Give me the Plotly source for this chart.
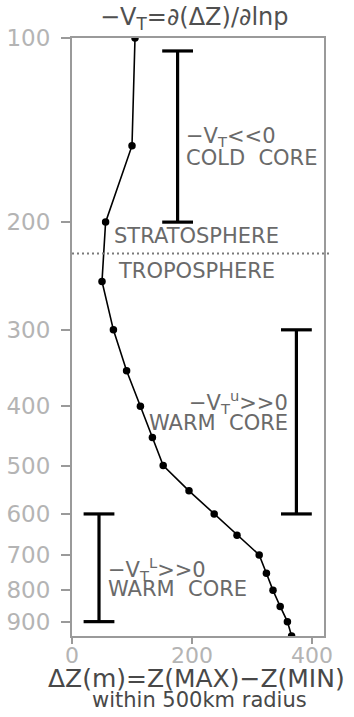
import numpy as np
import plotly.graph_objects as go

# Data
pressure = [100, 150, 200, 250, 300, 350, 400, 450, 500, 550, 600, 650, 700, 750, 800, 850, 900, 950]
delta_z = [105, 100, 56, 50, 69, 91, 114, 134, 152, 195, 237, 275, 312, 324, 335, 347, 359, 366]

# Thermal wind regime bars: (x value, p top, p bottom)
bar_x = [176, 374, 45]
bar_p_top = [105, 300, 600]
bar_p_bot = [200, 600, 900]

tropopause_p = 225

y_ticks = [100, 200, 300, 400, 500, 600, 700, 800, 900]
x_ticks = [0, 200, 400]

FONT = "DejaVu Sans"
TICK_GRAY = "#b4b4b4"
TXT_GRAY = "#6a6a6a"
FRAME = "#9a9a9a"

fig = go.Figure()

# main profile
fig.add_trace(go.Scatter(
    x=delta_z, y=pressure, mode="lines+markers",
    line=dict(color="black", width=1.6),
    marker=dict(color="black", size=7.5),
    cliponaxis=True, showlegend=False, hoverinfo="skip"))

# regime bars
for bx, pt, pb in zip(bar_x, bar_p_top, bar_p_bot):
    fig.add_trace(go.Scatter(
        x=[bx, bx], y=[pt, pb], mode="lines+markers",
        line=dict(color="black", width=3.2),
        marker=dict(symbol="line-ew", size=22, line=dict(color="black", width=3.2)),
        showlegend=False, hoverinfo="skip", cliponaxis=False))

# tropopause dotted line
fig.add_shape(type="line", xref="paper", yref="y",
              x0=0, x1=1.02, y0=tropopause_p, y1=tropopause_p,
              line=dict(color="#7a7a7a", width=2, dash="2px,3px"))

ann = [
    dict(text="−V<sub>T</sub>=∂(ΔZ)/∂lnp", x=0.488, y=1.0334, xanchor="center", size=24, color="#505050"),
    dict(text="−V<sub>T</sub>&lt;&lt;0", x=0.444, y=0.8344, xanchor="left", size=21, color=TXT_GRAY),
    dict(text="COLD  CORE", x=0.444, y=0.7993, xanchor="left", size=21, color=TXT_GRAY),
    dict(text="STRATOSPHERE", x=0.1587, y=0.6689, xanchor="left", size=21, color=TXT_GRAY),
    dict(text="TROPOSPHERE", x=0.1746, y=0.6104, xanchor="left", size=21, color=TXT_GRAY),
    dict(text="−V<sub>T</sub><sup>u</sup>&gt;&gt;0", x=0.865, y=0.3913, xanchor="right", size=21, color=TXT_GRAY),
    dict(text="WARM  CORE", x=0.865, y=0.3562, xanchor="right", size=21, color=TXT_GRAY),
    dict(text="−V<sub>T</sub><sup>L</sup>&gt;&gt;0", x=0.135, y=0.112, xanchor="left", size=21, color=TXT_GRAY),
    dict(text="WARM  CORE", x=0.135, y=0.0786, xanchor="left", size=21, color=TXT_GRAY),
    dict(text="ΔZ(m)=Z(MAX)−Z(MIN)", x=0.496, y=-0.0705, xanchor="center", size=25, color="#484848"),
    dict(text="within 500km radius", x=0.504, y=-0.107, xanchor="center", size=21, color="#484848"),
]
for a in ann:
    fig.add_annotation(text=a["text"], x=a["x"], y=a["y"], xref="paper", yref="paper",
                       xanchor=a["xanchor"], yanchor="middle", showarrow=False,
                       font=dict(family=FONT, size=a["size"], color=a["color"]))

fig.update_xaxes(range=[0, 420], tickvals=x_ticks, ticktext=[str(v) for v in x_ticks],
                 ticks="outside", ticklen=6, tickwidth=1.5, tickcolor=FRAME,
                 ticklabelstandoff=-7, automargin=False,
                 showline=True, linecolor=FRAME, linewidth=2, mirror=True,
                 showgrid=False, zeroline=False,
                 tickfont=dict(family=FONT, size=22, color=TICK_GRAY))
fig.update_yaxes(type="log", range=[np.log10(950), np.log10(100)],
                 tickvals=y_ticks, ticktext=[str(v) for v in y_ticks],
                 ticks="outside", ticklen=9, tickwidth=1.5, tickcolor=FRAME,
                 ticklabelstandoff=6, automargin=False,
                 showline=True, linecolor=FRAME, linewidth=2, mirror=True,
                 showgrid=False, zeroline=False,
                 tickfont=dict(family=FONT, size=23, color=TICK_GRAY))

fig.update_layout(width=354, height=717, margin=dict(l=72, r=30, t=38, b=81, autoexpand=False),
                  paper_bgcolor="white", plot_bgcolor="white", showlegend=False)

fig.write_html("out.html", config={"displayModeBar": False})
